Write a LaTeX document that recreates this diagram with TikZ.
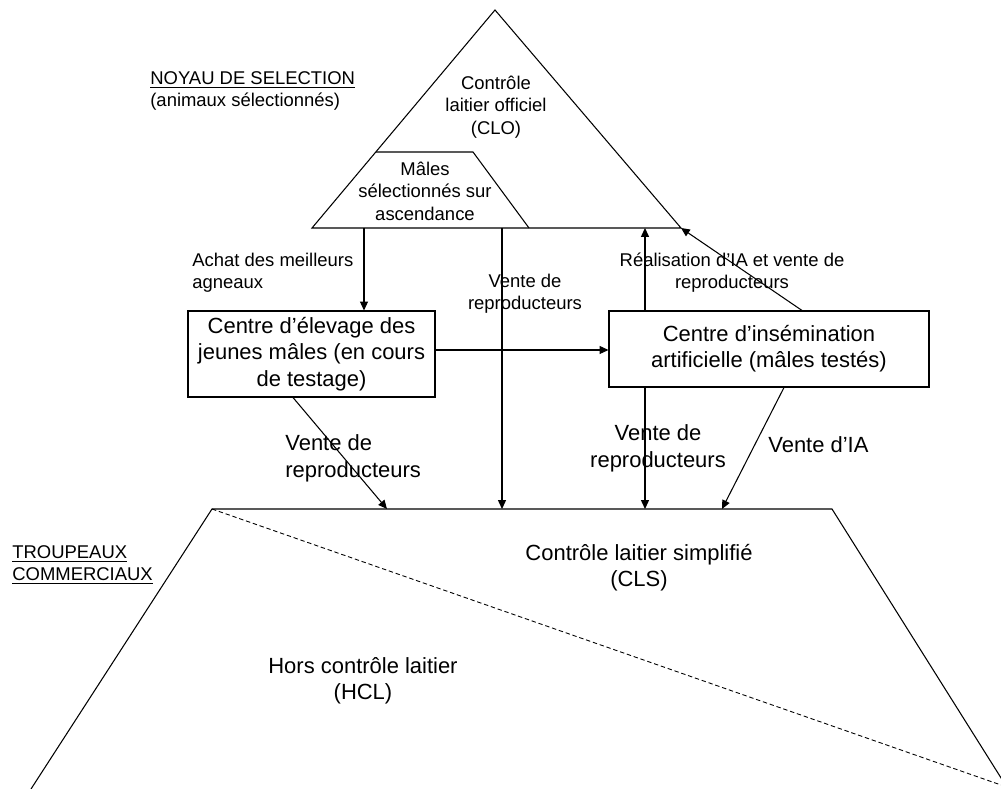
\documentclass[tikz,border=0pt]{standalone}
\usepackage{fontspec}
\setmainfont{Liberation Sans}
\usetikzlibrary{arrows.meta}

\begin{document}
\begin{tikzpicture}[
  petit/.style={font=\fontsize{10.5}{12.75}\selectfont, align=center, inner sep=0pt},
  grand/.style={font=\fontsize{12.5}{15}\selectfont, align=center, inner sep=0pt},
  boite/.style={draw, line width=0.6pt, grand, inner sep=0pt},
  fleche/.style={line width=0.6pt, -{Triangle[length=5pt,width=4.5pt]}},
  trait/.style={line width=0.6pt}]
\useasboundingbox (0,0) rectangle (20.02,15.78);

% noyau de selection
\draw[trait] (6.24,11.22) coordinate (tg) -- (9.90,15.58) coordinate (sommet)
  -- (13.62,11.22) coordinate (td) -- cycle;
\draw[trait] (7.52,12.74) coordinate (mg) -- (9.46,12.74) coordinate (md)
  -- (10.58,11.22) coordinate (mb);
\node[petit] (clo) at (9.92,13.64) {Contrôle\\laitier officiel\\(CLO)};
\node[petit] (males) at (8.50,11.96) {Mâles\\sélectionnés sur\\ascendance};
\node[petit, align=left, anchor=west] (noyau) at (3.00,13.96)
  {\underline{NOYAU DE SELECTION}\\(animaux sélectionnés)};

% troupeaux commerciaux
\draw[trait] (0.62,0) coordinate (bg) -- (4.24,5.60) coordinate (hg)
  -- (16.64,5.60) coordinate (hd) -- (20.16,0) coordinate (bd);
\draw[line width=0.5pt, dash pattern=on 2.5pt off 1.6pt] (hg) -- (20.02,0.08) coordinate (fin);
\node[petit, align=left, anchor=west] (troupeaux) at (0.24,4.48)
  {\underline{TROUPEAUX}\\\underline{COMMERCIAUX}};
\node[grand] (cls) at (12.78,4.43) {Contrôle laitier simplifié\\(CLS)};
\node[grand] (hcl) at (7.26,2.16) {Hors contrôle laitier\\(HCL)};

% centres
\node[boite, minimum width=4.94cm, minimum height=1.72cm] (elevage) at (6.23,8.70)
  {Centre d’élevage des\\jeunes mâles (en cours\\de testage)};
\node[boite, minimum width=6.40cm, minimum height=1.52cm] (ia) at (15.38,8.80)
  {Centre d’insémination\\artificielle (mâles testés)};

% points de depart / arrivee
\coordinate (a1) at (7.28,11.22);
\coordinate (a2) at (10.04,11.22);
\coordinate (a3) at (12.90,11.22);
\coordinate (a5) at (16.04,8.80);
\coordinate (a6) at (5.86,8.70);
\coordinate (b6) at (7.74,5.60);
\coordinate (a8) at (15.68,8.80);
\coordinate (b8) at (14.44,5.60);

% fleches
\draw[fleche] (a1) -- (a1 |- elevage.north);
\draw[fleche] (a2) -- (a2 |- hg);
\draw[fleche] (elevage.east |- 0,8.78) -- (ia.west |- 0,8.78);
\draw[fleche] (a3 |- ia.north) -- (a3);
\draw[fleche] (a5 |- ia.north) -- (td);
\draw[fleche] (a6 |- elevage.south) -- (b6);
\draw[fleche] (a3 |- ia.south) -- (a3 |- hg);
\draw[fleche] (a8 |- ia.south) -- (b8);

% etiquettes
\node[petit, align=left, anchor=west] (achat) at (3.84,10.33) {Achat des meilleurs\\agneaux};
\node[petit] (vente1) at (10.50,9.91) {Vente de\\reproducteurs};
\node[petit] (realisation) at (14.64,10.33) {Réalisation d’IA et vente de\\reproducteurs};
\node[grand, align=left, anchor=west] (vente2) at (5.70,6.61) {Vente de\\reproducteurs};
\node[grand] (vente3) at (13.16,6.81) {Vente de\\reproducteurs};
\node[grand, anchor=west] (venteia) at (15.36,6.88) {Vente d’IA};
\end{tikzpicture}
\end{document}
